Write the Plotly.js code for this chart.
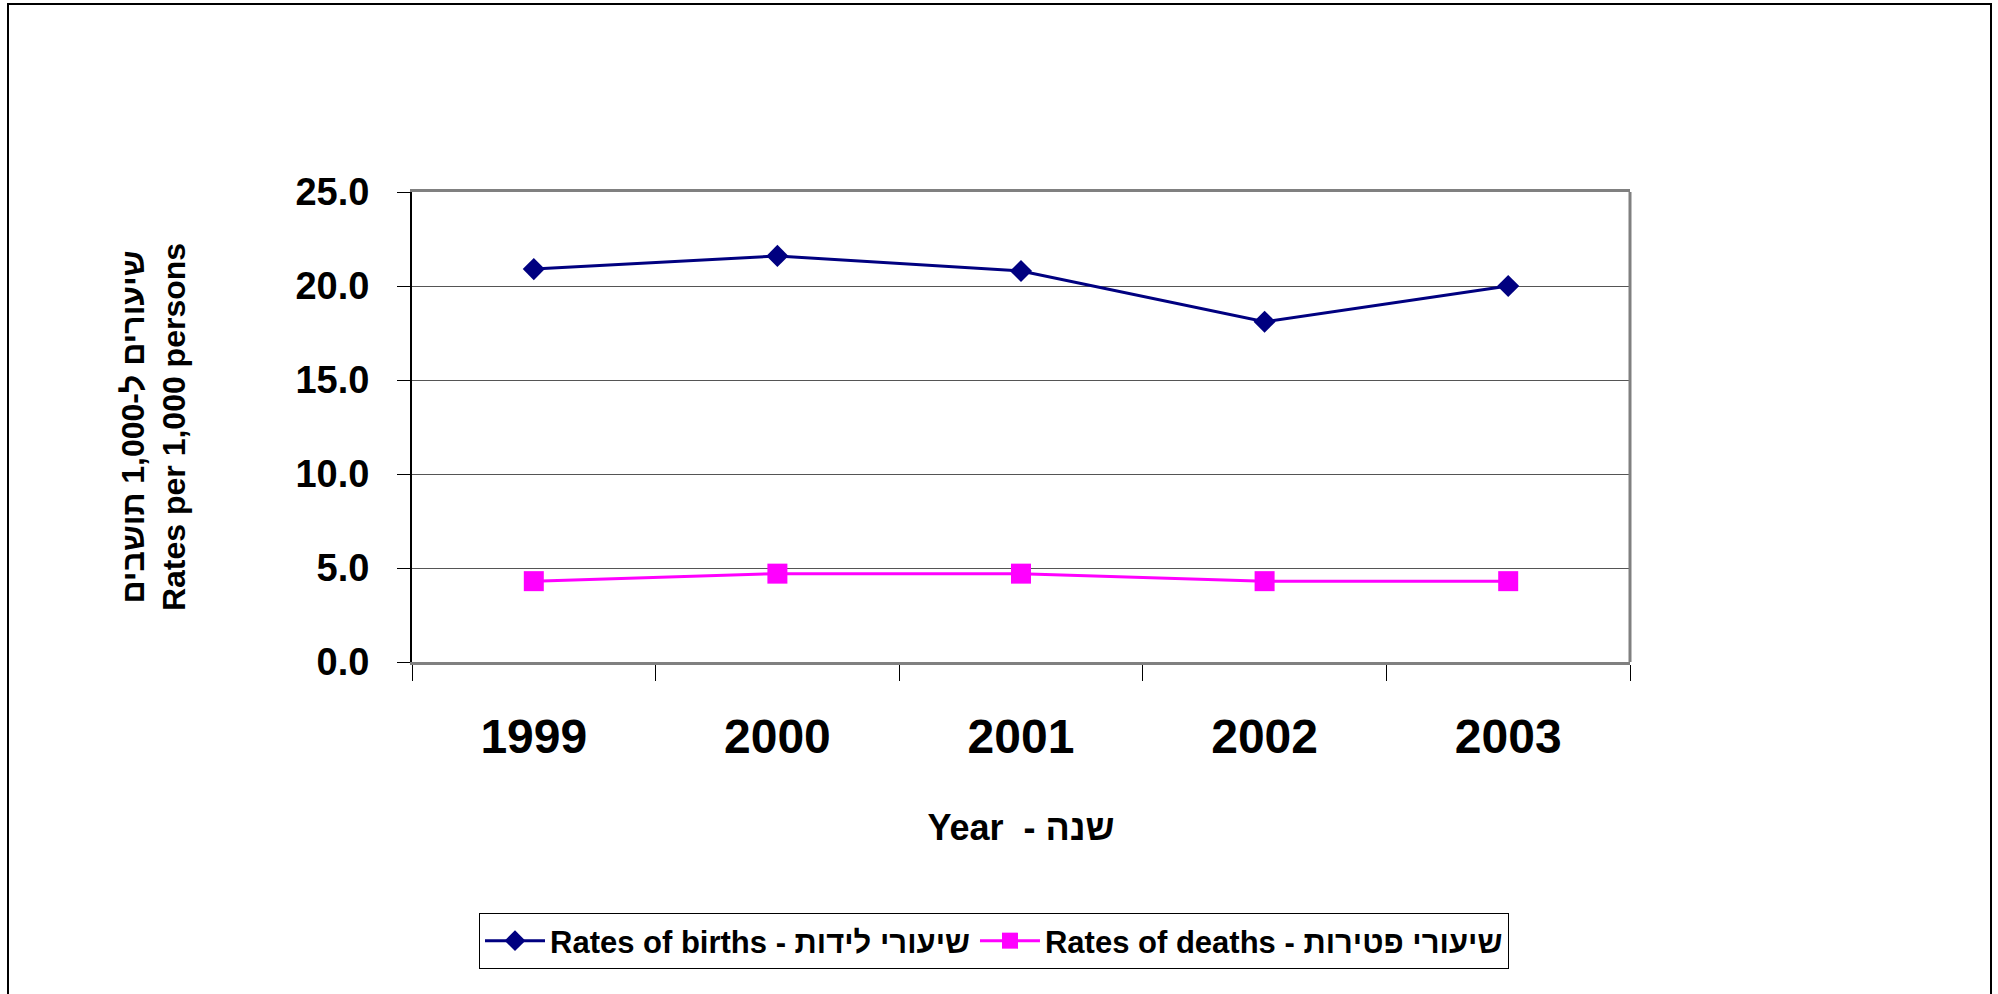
<!DOCTYPE html>
<html>
<head>
<meta charset="utf-8">
<script src="https://cdn.plot.ly/plotly-3.0.1.min.js"></script>
<style>
  html, body { margin: 0; padding: 0; background: #ffffff; }
  #chart { width: 1998px; height: 994px; }
</style>
</head>
<body>
<div id="chart"></div>
<script>
// ---- data ----
const years = ['1999', '2000', '2001', '2002', '2003'];
const birthRates = [20.9, 21.6, 20.8, 18.1, 20.0];
const deathRates = [4.3, 4.7, 4.7, 4.3, 4.3];
const birthsName = 'Rates of births - שיעורי לידות';
const deathsName = 'Rates of deaths - שיעורי פטירות';
const xTitle = 'Year  - שנה';
const yTitle = 'שיעורים ל-1,000 תושבים<br>Rates per 1,000 persons';

// ---- layout geometry ----
const W = 1998, H = 994;
const M = { l: 412, r: 368, t: 192, b: 332 };
const plotW = W - M.l - M.r, plotH = H - M.t - M.b;
const px2x = p => (p - M.l) / plotW;
const px2y = p => (H - M.b - p) / plotH;

const FONT = 'Liberation Sans, Arial, sans-serif';

const traces = [
  {
    x: years, y: birthRates, name: birthsName, type: 'scatter', mode: 'lines+markers',
    line: { color: '#000080', width: 3 },
    marker: { symbol: 'diamond', size: 17, color: '#000080' }
  },
  {
    x: years, y: deathRates, name: deathsName, type: 'scatter', mode: 'lines+markers',
    line: { color: '#FF00FF', width: 3 },
    marker: { symbol: 'square', size: 20, color: '#FF00FF' }
  }
];

const layout = {
  width: W, height: H,
  margin: M,
  paper_bgcolor: '#ffffff', plot_bgcolor: '#ffffff',
  font: { family: FONT, color: '#000000' },
  showlegend: true,
  hovermode: false,
  xaxis: {
    type: 'category',
    range: [-0.5, years.length - 0.5],
    showline: true, linecolor: '#808080', linewidth: 3,
    mirror: true,
    ticks: 'outside', tickson: 'boundaries', ticklen: 16, tickcolor: '#000000', tickwidth: 1,
    showgrid: false, zeroline: false,
    tickfont: { size: 48, family: FONT, weight: 'bold' },
    ticklabelstandoff: 30,
    title: { text: xTitle, font: { size: 36, family: FONT, weight: 'bold' }, standoff: 54 },
    automargin: false
  },
  yaxis: {
    range: [0, 25], dtick: 5, tick0: 0, tickformat: '.1f',
    showline: true, linecolor: '#000000', linewidth: 2,
    ticks: 'outside', ticklen: 13, tickcolor: '#000000', tickwidth: 1,
    showgrid: true, gridcolor: '#555555', gridwidth: 1, zeroline: false,
    tickfont: { size: 38, family: FONT, weight: 'bold' },
    ticklabelstandoff: 20,
    title: { text: yTitle, font: { size: 32, family: FONT, weight: 'bold' }, standoff: 100 },
    automargin: false
  },
  legend: {
    orientation: 'h',
    xanchor: 'center', x: px2x(994),
    yanchor: 'top', y: px2y(913),
    bordercolor: '#000000', borderwidth: 1,
    bgcolor: '#ffffff',
    font: { size: 31, family: FONT, weight: 'bold' },
    itemwidth: 60,
    tracegroupgap: 0
  },
  shapes: [
    // right frame edge of the plot area
    { type: 'line', xref: 'paper', yref: 'paper', x0: 1, x1: 1, y0: 0, y1: 1,
      line: { color: '#808080', width: 3 }, layer: 'above' },
    // outer chart border
    { type: 'rect', xref: 'paper', yref: 'paper',
      x0: px2x(8), x1: px2x(1991), y0: px2y(1010), y1: px2y(4),
      line: { color: '#000000', width: 2 }, layer: 'below' }
  ]
};

Plotly.newPlot('chart', traces, layout, { displayModeBar: false, staticPlot: true });
</script>
</body>
</html>
